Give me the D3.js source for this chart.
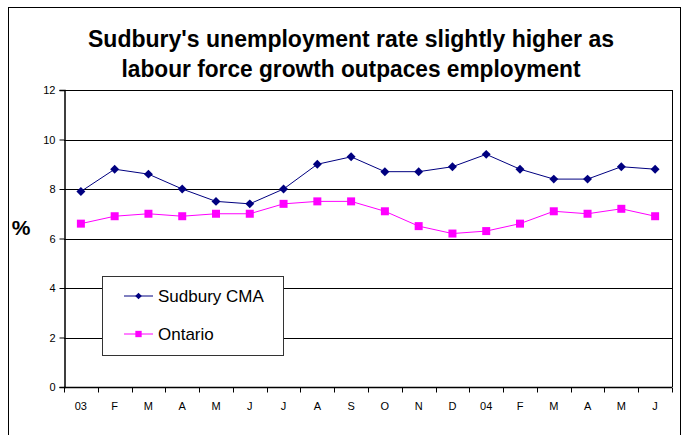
<!DOCTYPE html>
<html><head><meta charset="utf-8">
<script src="https://cdn.jsdelivr.net/npm/d3@7/dist/d3.min.js"></script>
<style>body{margin:0;background:#fff}svg{display:block}</style>
</head><body>
<script>
const categories = ["03","F","M","A","M","J","J","A","S","O","N","D","04","F","M","A","M","J"];
const sudbury = [7.9,8.8,8.6,8.0,7.5,7.4,8.0,9.0,9.3,8.7,8.7,8.9,9.4,8.8,8.4,8.4,8.9,8.8];
const ontario = [6.6,6.9,7.0,6.9,7.0,7.0,7.4,7.5,7.5,7.1,6.5,6.2,6.3,6.6,7.1,7.0,7.2,6.9];
const yTicks = [0,2,4,6,8,10,12];
const titleLines = ["Sudbury's unemployment rate slightly higher as","labour force growth outpaces employment"];
const seriesNames = ["Sudbury CMA","Ontario"];

const W=686,H=435;
const svg=d3.select("body").append("svg").attr("width",W).attr("height",H);
svg.append("rect").attr("x",8.5).attr("y",7.5).attr("width",672).attr("height",440).attr("fill","#fff").attr("stroke","#000").attr("stroke-width",1);

const L=64,R=672,T=90,B=387;
const x=d3.scaleBand().domain(d3.range(categories.length)).range([L,R]);
const y=d3.scaleLinear().domain([0,12]).range([B,T]);

svg.selectAll("text.title").data(titleLines).join("text")
 .attr("x",351).attr("y",(d,i)=>47+i*30).attr("text-anchor","middle")
 .attr("font-family","Liberation Sans, Arial, sans-serif").attr("font-weight","bold").attr("font-size",23)
 .attr("textLength",(d,i)=>i?459:526).attr("lengthAdjust","spacingAndGlyphs").text(d=>d);

// gridlines
svg.append("g").selectAll("line").data(yTicks.filter(v=>v>0)).join("line")
 .attr("x1",L).attr("x2",R).attr("y1",d=>Math.round(y(d))+0.5).attr("y2",d=>Math.round(y(d))+0.5)
 .attr("stroke","#000").attr("stroke-width",1);
svg.append("line").attr("x1",R+0.5).attr("x2",R+0.5).attr("y1",T).attr("y2",B).attr("stroke","#000");

// y axis
const yAx=svg.append("g").attr("transform",`translate(${L+0.5},0)`)
 .call(d3.axisLeft(y).tickValues(yTicks).tickSize(5).tickPadding(4).tickFormat(d3.format("d")));
yAx.selectAll("text").attr("font-family","Liberation Sans, Arial, sans-serif").attr("font-size",11).attr("fill","#000");
yAx.select(".domain").attr("stroke","#000").attr("stroke-width",1.5);

// x axis
const xAx=svg.append("g").attr("transform",`translate(0,${B+0.5})`);
xAx.append("line").attr("x1",L).attr("x2",R).attr("stroke","#000").attr("stroke-width",1.5);
xAx.selectAll("line.t").data(d3.range(categories.length+1)).join("line")
 .attr("x1",i=>Math.round(L+i*x.step())+0.5).attr("x2",i=>Math.round(L+i*x.step())+0.5).attr("y1",0).attr("y2",5).attr("stroke","#000");
xAx.selectAll("text").data(categories).join("text")
 .attr("x",(d,i)=>x(i)+x.bandwidth()/2).attr("y",22).attr("text-anchor","middle")
 .attr("font-family","Liberation Sans, Arial, sans-serif").attr("font-size",11).text(d=>d);

svg.append("text").attr("x",21).attr("y",235).attr("text-anchor","middle")
 .attr("font-family","Liberation Sans, Arial, sans-serif").attr("font-weight","bold").attr("font-size",21).text("%");

const cx=i=>x(i)+x.bandwidth()/2;
const line=d3.line().x((d,i)=>cx(i)).y(d=>y(d));
svg.append("path").datum(ontario).attr("d",line).attr("fill","none").attr("stroke","#FF00FF").attr("stroke-width",1);
svg.append("path").datum(sudbury).attr("d",line).attr("fill","none").attr("stroke","#000080").attr("stroke-width",1);
const sq=d3.symbol().type(d3.symbolSquare).size(64);
const dm=d3.symbol().type(d3.symbolSquare).size(40);
svg.append("g").selectAll("path").data(ontario).join("path")
 .attr("transform",(d,i)=>`translate(${cx(i)},${y(d)})`).attr("d",sq).attr("fill","#FF00FF");
svg.append("g").selectAll("path").data(sudbury).join("path")
 .attr("transform",(d,i)=>`translate(${cx(i)},${y(d)}) rotate(45)`).attr("d",dm).attr("fill","#000080");

// legend
const lg=svg.append("g");
lg.append("rect").attr("x",102.5).attr("y",276.5).attr("width",181).attr("height",79).attr("fill","#fff").attr("stroke","#333");
const lgColors=["#000080","#FF00FF"];
seriesNames.forEach((n,i)=>{
 const yy=296+i*38;
 lg.append("line").attr("x1",124).attr("x2",153).attr("y1",yy).attr("y2",yy).attr("stroke",lgColors[i]);
 lg.append("path").attr("transform",`translate(138.5,${yy})`+(i?"":" rotate(45)")).attr("d",d3.symbol().type(d3.symbolSquare).size(i?40:22)).attr("fill",lgColors[i]);
 lg.append("text").attr("x",158).attr("y",yy+6).attr("font-family","Liberation Sans, Arial, sans-serif").attr("font-size",17).text(n);
});
</script>
</body></html>
